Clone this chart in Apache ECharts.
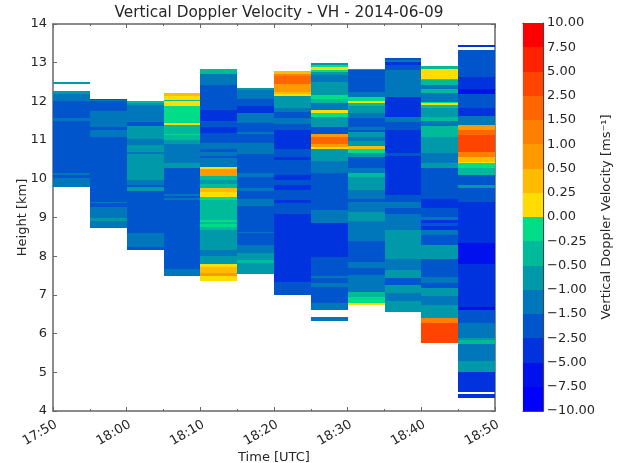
<!DOCTYPE html>
<html><head><meta charset="utf-8">
<style>html,body{margin:0;padding:0;background:#fff}#c{width:621px;height:463px;filter:blur(0.4px)}</style>
<script src="https://cdn.jsdelivr.net/npm/echarts@6/dist/echarts.min.js"></script>
</head><body><div id="c"></div>
<script>
const timeLabels = ['17:50','18:00','18:10','18:20','18:30','18:40','18:50'];
const heightTicks = [4,5,6,7,8,9,10,11,12,13,14];
const levels = [-10,-7.5,-5,-2.5,-1.5,-1,-0.5,-0.25,0,0.25,0.5,1,1.5,2.5,5,7.5,10];
const levelLabels = ['\u221210.00','\u22127.50','\u22125.00','\u22122.50','\u22121.50','\u22121.00','\u22120.50','\u22120.25','0.00','0.25','0.50','1.00','1.50','2.50','5.00','7.50','10.00'];
const palette = ['#0000ff','#0011ee','#0033dd','#0055cc','#0077bb','#0099aa','#00bb99','#00dd88','#ffdd00','#ffbb00','#ff9900','#ff8000','#ff6600','#ff4400','#ff2200','#ff0000'];
// Each profile row: [top km, bottom km, velocity m/s]
const p1750 = [[12.49,12.46,-0.75],[12.27,12.19,-0.75],[12.19,12.0,-1.25],[12.0,11.56,-2],[11.56,11.49,-1.25],[11.49,10.16,-2],[10.16,10.1,-1.25],[10.1,10.01,-2],[10.01,9.795,-1.25]];
const p1755 = [[12.07,12.03,-2],[12.03,12.0,-1.25],[12.0,11.76,-2],[11.76,11.33,-1.25],[11.33,11.26,-2],[11.26,11.07,-1.25],[11.07,9.41,-2],[9.41,9.37,-1.25],[9.37,9.28,-2],[9.28,8.98,-1.25],[8.98,8.91,-0.75],[8.91,8.72,-1.25]];
const p1800 = [[12.0,11.95,-0.37],[11.95,11.9,-0.75],[11.9,11.47,-1.25],[11.47,11.36,-2],[11.36,11.04,-0.75],[11.04,10.87,-1.25],[10.87,10.7,-0.75],[10.7,10.64,-1.25],[10.64,9.97,-0.75],[9.97,9.84,-1.25],[9.84,9.78,-2],[9.78,9.68,-0.75],[9.68,8.59,-2],[8.59,8.23,-1.25],[8.23,8.16,-2]];
const p1805 = [[12.22,12.13,0.37],[12.13,12.03,0.12],[12.03,12.0,-0.37],[12.0,11.88,0.12],[11.88,11.43,-0.12],[11.43,11.38,0.12],[11.38,11.17,-0.37],[11.17,11.13,-0.12],[11.13,11.0,-0.37],[11.0,10.9,-0.75],[10.9,10.42,-1.25],[10.42,10.27,-0.75],[10.27,9.62,-2],[9.62,9.56,-1.25],[9.56,9.51,-2],[9.51,9.45,-1.25],[9.45,7.66,-2],[7.66,7.49,-1.25]];
const p1810 = [[12.85,12.72,-0.37],[12.72,12.42,-1.25],[12.42,11.77,-2],[11.77,11.5,-3.5],[11.5,11.33,-2],[11.33,11.19,-3.5],[11.19,10.93,-2],[10.93,10.76,-1.25],[10.76,10.7,-2],[10.7,10.6,-1.25],[10.6,10.53,-2],[10.53,10.3,-1.25],[10.3,10.25,0.12],[10.25,10.08,0.75],[10.08,9.97,-0.37],[9.97,9.87,-0.75],[9.87,9.77,-0.37],[9.77,9.67,0.37],[9.67,9.52,0.12],[9.52,9.45,-0.12],[9.45,8.93,-0.37],[8.93,8.88,-0.12],[8.88,8.82,-0.37],[8.82,8.76,-0.12],[8.76,8.67,-0.37],[8.67,8.16,-0.75],[8.16,8.0,-1.25],[8.0,7.81,-0.75],[7.81,7.71,0.12],[7.71,7.57,0.37],[7.57,7.5,0.75],[7.5,7.37,0.12]];
const p1815 = [[12.35,12.3,-0.75],[12.3,12.07,-1.25],[12.07,11.88,-2],[11.88,11.71,-3.5],[11.71,11.43,-1.25],[11.43,11.21,-2],[11.21,11.15,-1.25],[11.15,10.93,-2],[10.93,10.64,-1.25],[10.64,10.14,-2],[10.14,10.05,-1.25],[10.05,9.75,-2],[9.75,9.69,-1.25],[9.69,9.49,-2],[9.49,9.3,-1.25],[9.3,8.63,-2],[8.63,8.59,-1.25],[8.59,8.29,-2],[8.29,8.07,-1.25],[8.07,7.9,-0.75],[7.9,7.83,-0.37],[7.83,7.53,-0.75]];
const p1820 = [[12.78,12.72,0.37],[12.72,12.65,1.25],[12.65,12.46,2],[12.46,12.25,0.75],[12.25,12.19,0.37],[12.19,12.14,0.12],[12.14,11.84,-0.75],[11.84,11.73,-1.25],[11.73,11.58,-2],[11.58,11.41,-1.25],[11.41,11.27,-2],[11.27,10.78,-3.5],[10.78,10.57,-2],[10.57,10.48,-3.5],[10.48,10.1,-2],[10.1,9.97,-3.5],[9.97,9.84,-2],[9.84,9.71,-3.5],[9.71,9.45,-2],[9.45,9.38,-3.5],[9.38,9.09,-2],[9.09,7.34,-3.5],[7.34,7.0,-2]];
const p1825 = [[12.98,12.93,-0.75],[12.93,12.89,-0.12],[12.89,12.82,0.12],[12.82,12.76,-0.12],[12.76,12.68,-0.75],[12.68,12.5,-1.25],[12.5,12.16,-0.75],[12.16,12.07,-0.12],[12.07,11.95,-0.37],[11.95,11.77,-1.25],[11.77,11.7,0.12],[11.7,11.6,-0.12],[11.6,11.34,-0.75],[11.34,11.17,-2],[11.17,11.09,0.75],[11.09,10.9,2],[10.9,10.83,0.75],[10.83,10.78,0.12],[10.78,10.47,-0.75],[10.47,10.14,-1.25],[10.14,9.19,-2],[9.19,8.87,-1.25],[8.87,7.99,-3.5],[7.99,7.49,-2],[7.49,7.43,-1.25],[7.43,7.32,-2],[7.32,7.21,-1.25],[7.21,6.8,-2],[6.8,6.6,-1.25],[6.43,6.32,-1.25]];
const p1830 = [[12.85,12.82,-0.75],[12.82,12.25,-2],[12.25,12.12,-1.25],[12.12,12.02,-0.12],[12.02,11.96,0.12],[11.96,11.88,-0.37],[11.88,11.69,-0.75],[11.69,11.56,-1.25],[11.56,11.34,-2],[11.34,11.27,-1.25],[11.27,11.21,-2],[11.21,11.09,-0.75],[11.09,10.98,-1.25],[10.98,10.84,-0.75],[10.84,10.76,0.37],[10.76,10.67,-0.12],[10.67,10.57,-0.75],[10.57,10.27,-2],[10.27,10.14,-1.25],[10.14,10.05,-0.37],[10.05,9.71,-0.75],[9.71,9.49,-1.25],[9.49,9.41,-2],[9.41,9.15,-1.25],[9.15,8.91,-0.75],[8.91,8.4,-1.25],[8.4,7.86,-2],[7.86,7.69,-1.25],[7.69,7.51,-2],[7.51,7.08,-1.25],[7.08,6.94,-0.37],[6.94,6.8,-0.12],[6.8,6.74,0.12]];
const p1835 = [[13.11,13.06,-2],[13.06,13.02,-1.25],[13.02,12.93,-3.5],[12.93,12.8,-2],[12.8,12.12,-1.25],[12.12,11.6,-3.5],[11.6,11.47,-1.25],[11.47,11.26,-2],[11.26,10.66,-3.5],[10.66,10.59,-2],[10.59,9.58,-3.5],[9.58,9.41,-2],[9.41,9.24,-1.25],[9.24,9.1,-2],[9.1,8.67,-1.25],[8.67,7.94,-0.75],[7.94,7.64,-1.25],[7.64,7.43,-0.75],[7.43,7.26,-2],[7.26,7.04,-0.75],[7.04,6.83,-1.25],[6.83,6.57,-0.75]];
const p1840 = [[12.91,12.85,-0.37],[12.85,12.79,0.12],[12.79,12.59,0.12],[12.59,12.55,-0.12],[12.55,12.42,-0.37],[12.42,12.33,-1.25],[12.33,12.22,-0.37],[12.22,11.99,-1.25],[11.99,11.95,-0.12],[11.95,11.9,0.12],[11.9,11.82,-0.37],[11.82,11.6,-0.75],[11.6,11.5,-0.37],[11.5,11.36,-1.25],[11.36,11.09,-0.37],[11.09,10.66,-0.75],[10.66,10.4,-1.25],[10.4,10.27,-0.75],[10.27,9.49,-2],[9.49,9.24,-3.5],[9.24,9.02,-2],[9.02,8.93,-1.25],[8.93,8.85,-3.5],[8.85,8.78,-2],[8.78,8.67,-3.5],[8.67,8.55,-1.25],[8.55,8.29,-2],[8.29,7.94,-0.75],[7.94,7.47,-2],[7.47,7.3,-1.25],[7.3,7.17,-2],[7.17,6.97,-0.75],[6.97,6.74,-1.25],[6.74,6.4,-0.75],[6.4,6.28,1.25],[6.28,5.75,3.5]];
const p1845 = [[13.45,13.41,-3.5],[13.34,12.62,-2],[12.62,12.33,-3.5],[12.33,12.2,-6],[12.2,11.84,-2],[11.84,11.62,-3.5],[11.62,11.39,-1.25],[11.39,11.26,0.75],[11.26,11.13,2],[11.13,10.7,3.5],[10.7,10.57,1.25],[10.57,10.44,0.37],[10.44,10.4,0.12],[10.4,10.27,-0.12],[10.27,10.1,-0.37],[10.1,9.84,-2],[9.84,9.75,-0.75],[9.75,9.41,-2],[9.41,8.33,-3.5],[8.33,7.81,-6],[7.81,6.7,-3.5],[6.7,6.61,-6],[6.61,6.27,-2],[6.27,5.88,-1.25],[5.88,5.84,-0.75],[5.84,5.73,-0.37],[5.73,5.28,-1.25],[5.28,5.0,-0.75],[5.0,4.48,-3.5],[4.43,4.33,-3.5]];
const profiles = [p1750,p1755,p1800,p1805,p1810,p1815,p1820,p1825,p1830,p1835,p1840,p1845];
const stepMinutes = 5;

const txt = '#262626';
const font = 'DejaVu Sans';
const rows = [];
profiles.forEach((p,i)=>p.forEach(r=>rows.push([i*stepMinutes,(i+1)*stepMinutes,r[0],r[1],r[2]])));
function colourOf(v){
  for(let i=0;i<palette.length;i++) if(v>=levels[i]&&v<levels[i+1]) return palette[i];
  return palette[palette.length-1];
}
const barRows = palette.map((c,i)=>[i,i+1]);
function rectFrom(api,x0,x1,y0,y1,fill){
  const a=api.coord([x0,y0]), b=api.coord([x1,y1]);
  const l=Math.round(a[0]), r=Math.round(b[0]), t=Math.round(a[1]), d=Math.round(b[1]);
  return {type:'rect',shape:{x:l,y:t,width:r-l,height:Math.max(2,d-t)},style:{fill:fill,stroke:null,lineWidth:0}};
}
const frame={show:true,onZero:false,lineStyle:{color:'#666',width:1.5}};
const cframe={show:true,onZero:false,lineStyle:{color:'#444',width:1.2}};
const tick={show:true,inside:true,length:4,lineStyle:{color:'#666',width:1}};
const minor={show:true,splitNumber:2,length:2,lineStyle:{color:'#666',width:1}};
const noLab={show:false}, noSplit={show:false};
const xBase={type:'value',min:0,max:60,interval:10,gridIndex:0,axisLine:frame,axisTick:tick,minorTick:minor,splitLine:noSplit,minorSplitLine:noSplit};
const yBase={type:'value',min:4,max:14,interval:1,gridIndex:0,axisLine:frame,axisTick:tick,splitLine:noSplit};
const chart=echarts.init(document.getElementById('c'),null,{renderer:'canvas'});
chart.setOption({
  animation:false,
  backgroundColor:'#fff',
  textStyle:{fontFamily:font,color:txt},
  title:{text:'Vertical Doppler Velocity - VH - 2014-06-09',left:274,top:1,textAlign:'center',
    textStyle:{fontFamily:font,fontSize:15.3,fontWeight:'normal',color:txt}},
  grid:[{left:53,top:24,width:442,height:387,outerBoundsMode:'none'},{left:523,top:23,width:20,height:388,outerBoundsMode:'none'}],
  xAxis:[
    Object.assign({},xBase,{position:'bottom',name:'Time [UTC]',nameLocation:'middle',nameGap:40,nameMoveOverlap:false,
      nameTextStyle:{fontFamily:font,fontSize:13,color:txt},
      axisLabel:{rotate:30,fontFamily:font,fontSize:13,color:txt,margin:7,align:'right',verticalAlign:'top',
        formatter:v=>timeLabels[v/10]}}),
    Object.assign({},xBase,{position:'top',axisLabel:noLab}),
    {type:'value',min:0,max:1,gridIndex:1,position:'bottom',axisLine:cframe,axisTick:{show:false},axisLabel:noLab,splitLine:noSplit},
    {type:'value',min:0,max:1,gridIndex:1,position:'top',axisLine:cframe,axisTick:{show:false},axisLabel:noLab,splitLine:noSplit}
  ],
  yAxis:[
    Object.assign({},yBase,{position:'left',name:'Height [km]',nameLocation:'middle',nameGap:24,nameMoveOverlap:false,
      nameTextStyle:{fontFamily:font,fontSize:13,color:txt},
      axisLabel:{fontFamily:font,fontSize:13,color:txt,margin:6,formatter:v=>String(heightTicks[v-4])}}),
    Object.assign({},yBase,{position:'right',axisLabel:noLab}),
    {type:'value',min:0,max:16,interval:1,gridIndex:1,position:'left',axisLine:cframe,axisTick:{show:false},axisLabel:noLab,splitLine:noSplit},
    {type:'value',min:0,max:16,interval:1,gridIndex:1,position:'right',axisLine:cframe,
      axisTick:{show:true,inside:true,length:4,lineStyle:{color:'#444',width:1}},splitLine:noSplit,
      name:'Vertical Doppler Velocity [ms\u207B\u00B9]',nameLocation:'middle',nameGap:57,nameRotate:90,nameMoveOverlap:false,
      nameTextStyle:{fontFamily:font,fontSize:13,color:txt},
      axisLabel:{fontFamily:font,fontSize:13,color:txt,margin:4,formatter:v=>levelLabels[v]}}
  ],
  series:[
    {type:'custom',xAxisIndex:0,yAxisIndex:0,data:rows,clip:true,silent:true,
      encode:{x:[0,1],y:[2,3]},
      renderItem:(params,api)=>rectFrom(api,api.value(0),api.value(1),api.value(2),api.value(3),colourOf(api.value(4)))},
    {type:'custom',xAxisIndex:2,yAxisIndex:2,data:barRows,clip:true,silent:true,
      encode:{y:[0,1]},
      renderItem:(params,api)=>rectFrom(api,0,1,api.value(1),api.value(0),palette[params.dataIndex])}
  ]
});
</script></body></html>
